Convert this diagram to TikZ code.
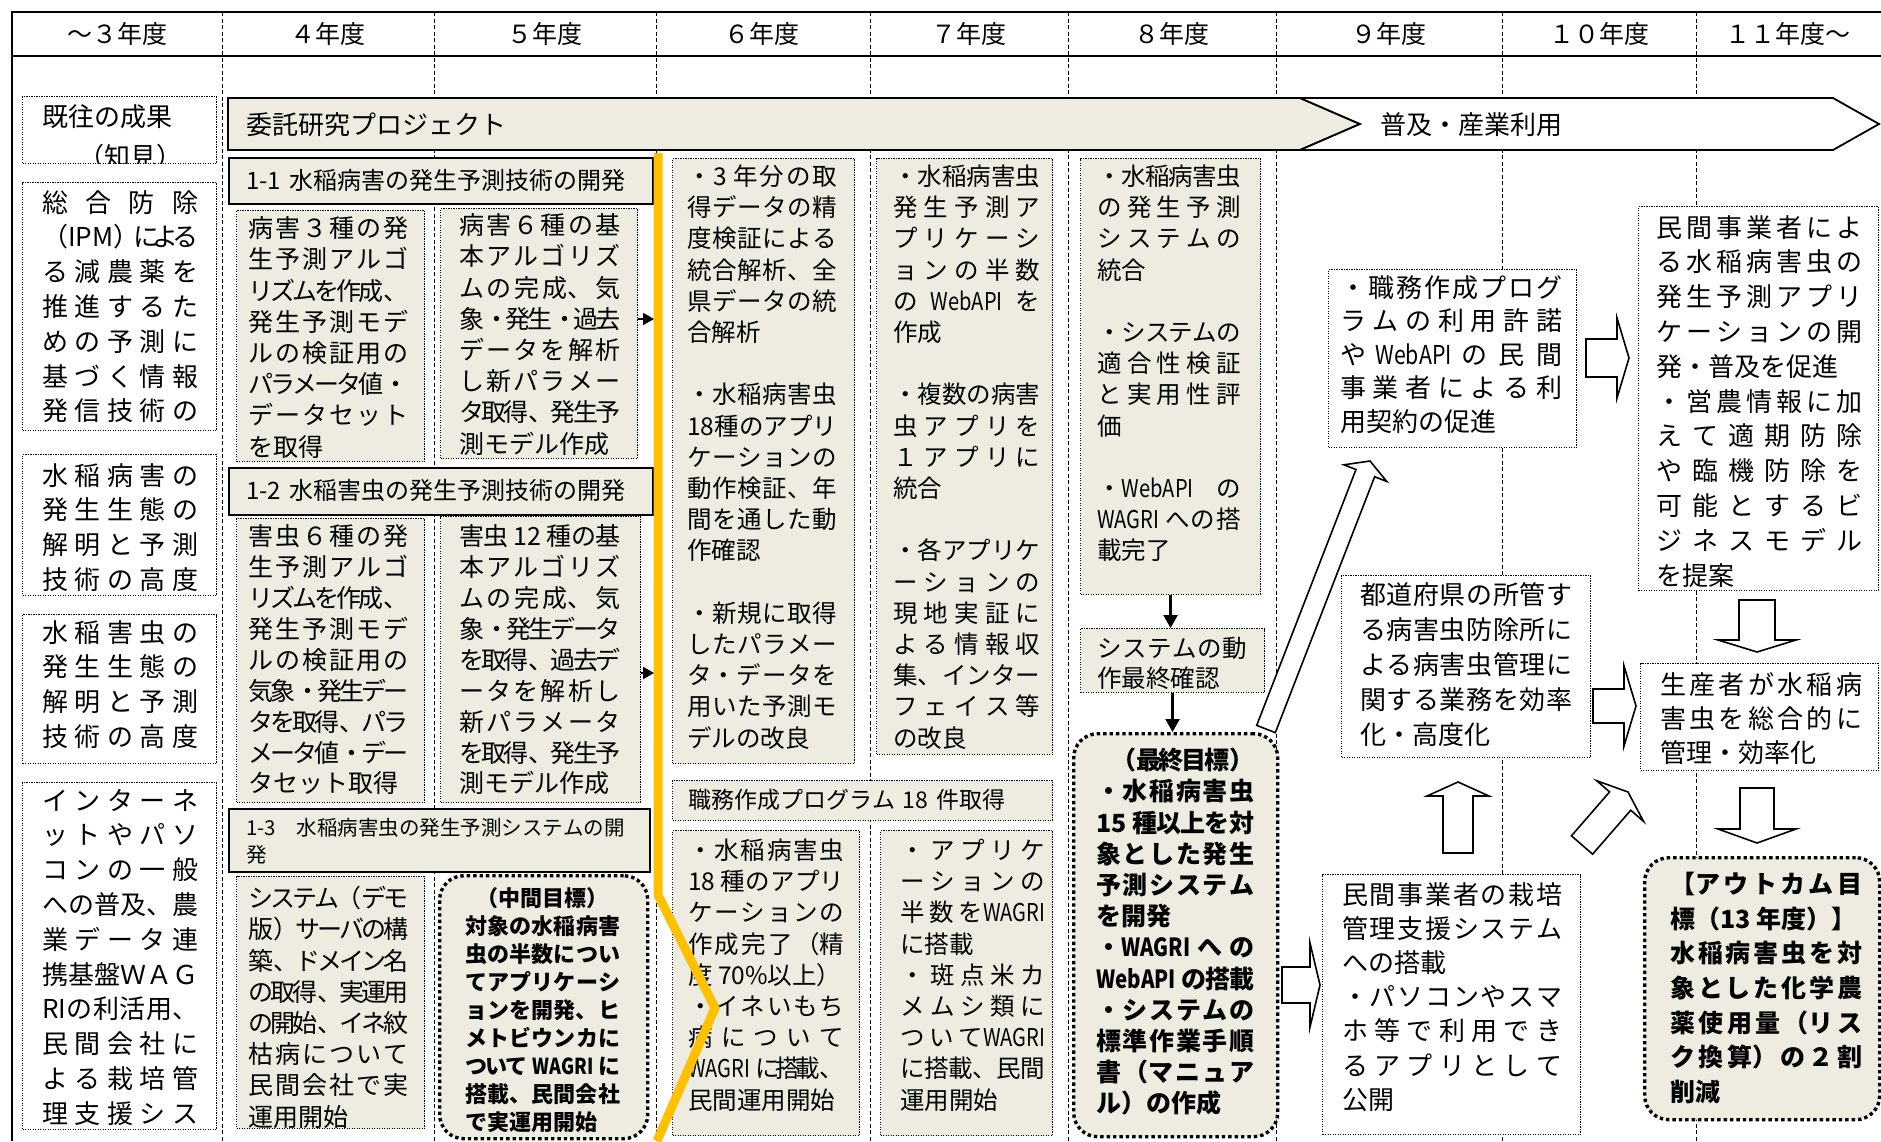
\documentclass[tikz,border=0pt]{standalone}
\usepackage{fontspec}
\usepackage{graphicx}
\setmainfont{Noto Sans CJK JP}
\usetikzlibrary{arrows.meta,calc}
\XeTeXlinebreaklocale "ja"
\XeTeXlinebreakskip=0pt plus 10pt minus 10pt
\setlength\parindent{0pt}
\setlength\parskip{0pt}
\definecolor{beige}{RGB}{238,236,225}
\definecolor{gold}{RGB}{255,192,0}
\newcommand\jb{\linebreak}
\newcommand\nw[1]{\scalebox{0.82}[1]{#1}}
\newcommand\emptyrow{\par\vskip\baselineskip}
\newcommand\mybox[6]{\node[#2,anchor=north west,inner sep=0pt,minimum width={(#5-#3)*1pt},minimum height={(#6-#4)*1pt}] (#1) at (#3,#4) {};}
\newcommand\mytext[6]{\node[anchor=north west,inner sep=0pt,text width=#5pt,#2] (#1) at (#3,#4) {\rule{0pt}{.88em}#6};}
\newcommand\blockarr[5]{%
 \coordinate (hb) at ($(#2)!#5pt!(#1)$);
 \draw[blockarrow] ($(#1)!#3pt!90:(#2)$) -- ($(hb)!#3pt!90:(#2)$) -- ($(hb)!#4pt!90:(#2)$) -- (#2) -- ($(hb)!#4pt!-90:(#2)$) -- ($(hb)!#3pt!-90:(#2)$) -- ($(#1)!#3pt!-90:(#2)$) -- cycle;}
\begin{document}
\begin{tikzpicture}[x=1pt,y=-1pt,
 divider/.style={line width=0.9pt,dash pattern=on 4pt off 2.5pt},
 frame/.style={line width=2.4pt},
 barline/.style={line width=1.8pt,line join=miter},
 thinbox/.style={draw,line width=1.1pt,dash pattern=on 1.1pt off 1.4pt},
 beigebox/.style={thinbox,fill=beige},
 whitebox/.style={thinbox,fill=white},
 headbox/.style={draw,line width=2pt,fill=beige},
 goalbox/.style={draw,line width=3.4pt,dash pattern=on 3.4pt off 3pt,fill=beige,rounded corners=24pt},
 blockarrow/.style={draw,fill=white,line width=1.6pt,line join=miter},
 blackarrow/.style={line width=2.4pt,-{Triangle[length=13pt,width=14pt]}},
 smallarrow/.style={line width=2pt,-{Triangle[length=11pt,width=12pt]}},
 yr/.style={anchor=north,inner sep=0pt,font=\fontsize{25}{30}\selectfont},
 cA/.style={font=\fontsize{26}{34.8}\selectfont,align=justify},
 tf/.style={font=\fontsize{25}{31.2}\selectfont,align=justify},
 th/.style={font=\fontsize{25}{30.9}\selectfont,align=justify},
 tl/.style={font=\fontsize{24.5}{31.2}\selectfont,align=justify},
 hd/.style={font=\fontsize{24}{30}\selectfont,align=left}
]
\useasboundingbox (0,0) rectangle (1881,1141);
% column dividers
\foreach \cx in {222,434,656,870,1068,1276,1502,1696} \draw[divider] (\cx,12) -- (\cx,1141);
% frame
\draw[frame] (1881,12) -- (12,12) -- (12,1141);
\draw[frame] (12,56) -- (1881,56);
% year labels
\node[yr] (y0) at (117,21.5) {\rule{0pt}{.88em}～３年度};
\node[yr] (y1) at (328,21.5) {\rule{0pt}{.88em}４年度};
\node[yr] (y2) at (545,21.5) {\rule{0pt}{.88em}５年度};
\node[yr] (y3) at (762,21.5) {\rule{0pt}{.88em}６年度};
\node[yr] (y4) at (969,21.5) {\rule{0pt}{.88em}７年度};
\node[yr] (y5) at (1172,21.5) {\rule{0pt}{.88em}８年度};
\node[yr] (y6) at (1389,21.5) {\rule{0pt}{.88em}９年度};
\node[yr] (y7) at (1599,21.5) {\rule{0pt}{.88em}１０年度};
\node[yr] (y8) at (1788,21.5) {\rule{0pt}{.88em}１１年度～};
% project bar
\draw[barline,fill=beige] (228,98) -- (1300,98) -- (1360,124) -- (1300,150) -- (228,150) -- cycle;
\draw[barline,fill=white] (1300,98) -- (1833,98) -- (1879,124) -- (1833,150) -- (1300,150) -- (1360,124) -- cycle;
\mytext{tbar1}{font=\fontsize{26}{30}\selectfont,align=left}{246}{111}{400}{委託研究プロジェクト}
\mytext{tbar2}{font=\fontsize{26}{30}\selectfont,align=left}{1380}{111}{300}{普及・産業利用}
% left column
\mybox{A}{whitebox}{22}{96}{216}{163}
\mybox{B}{whitebox}{22}{182}{216}{430}
\mybox{C}{whitebox}{22}{454}{216}{595}
\mybox{D}{whitebox}{22}{614}{216}{763}
\mybox{E}{whitebox}{22}{782}{216}{1129}
\begin{scope}
\clip (22,96) rectangle (216,163);
\mytext{tA}{font=\fontsize{26}{40}\selectfont,align=left}{42}{103}{170}{既往の成果\\\hspace*{1.4em}（知見）}
\end{scope}
\mytext{tB}{cA}{42}{189}{156}{総合防除\jb （IPM）による\jb る減農薬を\jb 推進するた\jb めの予測に\jb 基づく情報\jb 発信技術の\jb}
\mytext{tC}{cA}{42}{462}{156}{水稲病害の\jb 発生生態の\jb 解明と予測\jb 技術の高度\jb}
\mytext{tD}{cA}{42}{619}{156}{水稲害虫の\jb 発生生態の\jb 解明と予測\jb 技術の高度\jb}
\mytext{tE}{cA}{42}{787}{156}{インターネ\jb ットやパソ\jb コンの一般\jb への普及、農\jb 業データ連\jb 携基盤ＷＡＧ\jb RIの利活用、\jb 民間会社に\jb よる栽培管\jb 理支援シス\jb}
% 4-5 year area
\mybox{H11}{headbox}{228}{157}{652}{203}
\mytext{tH11}{hd}{246}{168}{400}{1-1 水稲病害の発生予測技術の開発}
\mybox{F}{beigebox}{236}{210}{424}{461}
\mytext{tF}{tf}{248}{215.5}{160}{病害３種の発\jb 生予測アルゴ\jb リズムを作成、\jb 発生予測モデ\jb ルの検証用の\jb パラメータ値・\jb データセット\jb を取得}
\mybox{G}{beigebox}{440}{208}{637}{458}
\mytext{tG}{tf}{459}{212.5}{161}{病害６種の基\jb 本アルゴリズ\jb ムの完成、気\jb 象・発生・過去\jb データを解析\jb し新パラメー\jb タ取得、発生予\jb 測モデル作成}
\mybox{H12}{headbox}{228}{467}{652}{514}
\mytext{tH12}{hd}{246}{478}{400}{1-2 水稲害虫の発生予測技術の開発}
\mybox{H}{beigebox}{236}{518}{424}{802}
\mytext{tH}{th}{248}{523.5}{160}{害虫６種の発\jb 生予測アルゴ\jb リズムを作成、\jb 発生予測モデ\jb ルの検証用の\jb 気象・発生デー\jb タを取得、パラ\jb メータ値・デー\jb タセット取得}
\mybox{I}{beigebox}{440}{516}{640}{802}
\mytext{tI}{th}{459}{523.5}{161}{害虫 12 種の基\jb 本アルゴリズ\jb ムの完成、気\jb 象・発生データ\jb を取得、過去デ\jb ータを解析し\jb 新パラメータ\jb を取得、発生予\jb 測モデル作成}
\mybox{H13}{headbox}{228}{808}{649}{871}
\mytext{tH13}{font=\fontsize{20.5}{27}\selectfont,align=left}{246}{816.75}{400}{1-3　水稲病害虫の発生予測システムの開\\発}
\mybox{J}{beigebox}{236}{876}{424}{1128}
\mytext{tJ}{tf}{248}{885.5}{160}{システム（デモ\jb 版）サーバの構\jb 築、ドメイン名\jb の取得、実運用\jb の開始、イネ紋\jb 枯病について\jb 民間会社で実\jb 運用開始}
\mybox{K}{goalbox}{438}{874}{646}{1137}
\mytext{tK}{font=\bfseries\fontsize{22}{28}\selectfont,align=justify}{465}{887}{155}{\hspace*{.5em}（中間目標）\par 対象の水稲病害\jb 虫の半数につい\jb てアプリケーシ\jb ョンを開発、ヒ\jb メトビウンカに\jb ついて \nw{WAGRI} に\jb 搭載、民間会社\jb で実運用開始}
% 6-7 year area
\mybox{L}{beigebox}{672}{158}{854}{763}
\mytext{tL}{tl}{687}{163.75}{150}{・3 年分の取\jb 得データの精\jb 度検証による\jb 統合解析、全\jb 県データの統\jb 合解析\emptyrow ・水稲病害虫\jb 18種のアプリ\jb ケーションの\jb 動作検証、年\jb 間を通した動\jb 作確認\emptyrow ・新規に取得\jb したパラメー\jb タ・データを\jb 用いた予測モ\jb デルの改良}
\mybox{M}{beigebox}{876}{158}{1052}{754}
\mytext{tM}{tl}{893}{163.75}{147}{・水稲病害虫\jb 発生予測ア\jb プリケーシ\jb ョンの半数\jb の \nw{WebAPI} を\jb 作成\emptyrow ・複数の病害\jb 虫アプリを\jb １アプリに\jb 統合\emptyrow ・各アプリケ\jb ーションの\jb 現地実証に\jb よる情報収\jb 集、インター\jb フェイス等\jb の改良}
\mybox{N}{beigebox}{672}{780}{1052}{820}
\mytext{tN}{font=\fontsize{23}{28}\selectfont,align=left}{688}{788.5}{360}{職務作成プログラム 18 件取得}
\mybox{O}{beigebox}{672}{830}{859}{1135}
\mytext{tO}{tl}{688}{837.75}{156}{・水稲病害虫\jb 18 種のアプリ\jb ケーションの\jb 作成完了（精\jb 度 70\%以上）\par ・イネいもち\jb 病について\jb \nw{WAGRI} に搭載、\jb 民間運用開始}
\mybox{P}{beigebox}{880}{830}{1052}{1135}
\mytext{tP}{tl}{900}{837.75}{145}{・アプリケ\jb ーションの\jb 半数を\nw{WAGRI}\jb に搭載\par ・斑点米カ\jb メムシ類に\jb ついて\nw{WAGRI}\jb に搭載、民間\jb 運用開始}
% 8 year area
\mybox{Q}{beigebox}{1080}{158}{1260}{594}
\mytext{tQ}{tl}{1097}{163.75}{144}{・水稲病害虫\jb の発生予測\jb システムの\jb 統合\emptyrow ・システムの\jb 適合性検証\jb と実用性評\jb 価\emptyrow ・\nw{WebAPI} の\jb \nw{WAGRI} への搭\jb 載完了}
\mybox{R}{beigebox}{1080}{628}{1264}{692}
\mytext{tR}{font=\fontsize{24.5}{30}\selectfont,align=justify}{1097}{635.75}{150}{システムの動\jb 作最終確認}
\mybox{S}{goalbox}{1072}{732}{1276}{1135}
\mytext{tS}{font=\bfseries\fontsize{25}{31.2}\selectfont,align=justify}{1096}{747.5}{158}{\hspace*{.6em}（最終目標）\par ・水稲病害虫\jb 15 種以上を対\jb 象とした発生\jb 予測システム\jb を開発\par ・\nw{WAGRI} への\jb \nw{WebAPI} の搭載\par ・システムの\jb 標準作業手順\jb 書（マニュア\jb ル）の作成}
% 9-11 year area
\mybox{T}{whitebox}{1328}{269}{1576}{447}
\mytext{tT}{font=\fontsize{26}{33.6}\selectfont,align=justify}{1340}{274}{222}{・職務作成プログ\jb ラムの利用許諾\jb や \nw{WebAPI} の民間\jb 事業者による利\jb 用契約の促進}
\mybox{U}{whitebox}{1638}{206}{1878}{590}
\mytext{tU}{font=\fontsize{26}{34.8}\selectfont,align=justify}{1656}{214}{206}{民間事業者によ\jb る水稲病害虫の\jb 発生予測アプリ\jb ケーションの開\jb 発・普及を促進\par\hangindent=1em\hangafter=1 ・営農情報に加\jb えて適期防除\jb や臨機防除を\jb 可能とするビ\jb ジネスモデル\jb を提案}
\mybox{V}{whitebox}{1341}{575}{1590}{757}
\mytext{tV}{font=\fontsize{26}{35}\selectfont,align=justify}{1360}{581}{212}{都道府県の所管す\jb る病害虫防除所に\jb よる病害虫管理に\jb 関する業務を効率\jb 化・高度化}
\mybox{W}{whitebox}{1640}{663}{1878}{770}
\mytext{tW}{font=\fontsize{26}{34}\selectfont,align=justify}{1660}{671}{202}{生産者が水稲病\jb 害虫を総合的に\jb 管理・効率化}
\mybox{X}{whitebox}{1322}{874}{1580}{1134}
\mytext{tX}{font=\fontsize{26}{34.2}\selectfont,align=justify}{1342}{881}{220}{民間事業者の栽培\jb 管理支援システム\jb への搭載\par\hangindent=1em\hangafter=1 ・パソコンやスマ\jb ホ等で利用でき\jb るアプリとして\jb 公開}
\mybox{Y}{goalbox}{1643}{856}{1878}{1118}
\mytext{tY}{font=\bfseries\fontsize{25}{34.6}\selectfont,align=justify}{1670}{871.5}{192}{【アウトカム目\jb 標（13 年度）】\par 水稲病害虫を対\jb 象とした化学農\jb 薬使用量（リス\jb ク換算）の２割\jb 削減}
% orange milestone line
\draw[gold,line width=9pt,line join=miter] (658,153) -- (658,895) -- (715,1008) -- (657,1141);
% black arrows
\coordinate (o1) at (654,319);
\coordinate (o2) at (654,673);
\draw[smallarrow] (G.east |- o1) -- (o1);
\draw[smallarrow] (I.east |- o2) -- (o2);
\draw[blackarrow] (Q.south) -- (Q.south |- R.north);
\draw[blackarrow] (R.south) -- (R.south |- S.north);
% block arrows
\coordinate (a1t) at (1266,729); \coordinate (a1h) at (1370,461);
\coordinate (a2t) at (1586,358); \coordinate (a2h) at (1629,358);
\coordinate (a3t) at (1757,600); \coordinate (a3h) at (1757,652);
\coordinate (a4t) at (1593,706); \coordinate (a4h) at (1636,706);
\coordinate (a5t) at (1757,788); \coordinate (a5h) at (1757,843);
\coordinate (a6t) at (1458,853); \coordinate (a6h) at (1458,782);
\coordinate (a7t) at (1582,845); \coordinate (a7h) at (1628,792);
\coordinate (a8t) at (1282,985); \coordinate (a8h) at (1320,985);
\blockarr{a1t}{a1h}{10}{23}{13}
\blockarr{a2t}{a2h}{19}{40}{12}
\blockarr{a3t}{a3h}{18}{39}{12}
\blockarr{a4t}{a4h}{17}{40}{12}
\blockarr{a5t}{a5h}{17}{39}{14}
\blockarr{a6t}{a6h}{15}{31}{14}
\blockarr{a7t}{a7h}{14}{31}{12}
\blockarr{a8t}{a8h}{18}{42}{10}
\end{tikzpicture}
\end{document}
